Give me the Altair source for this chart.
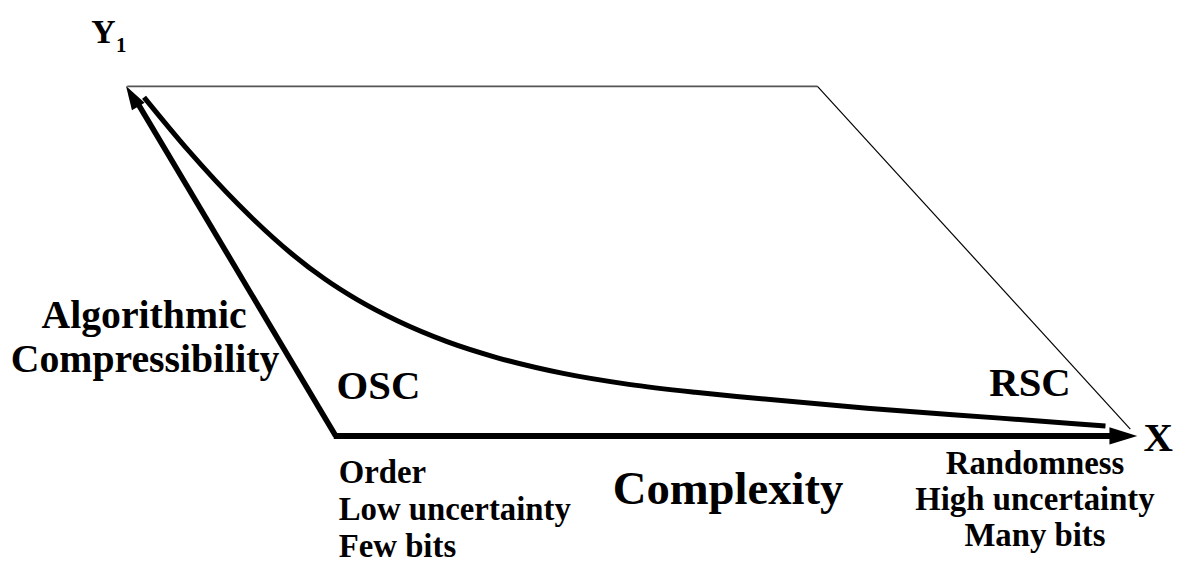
import altair as alt
import pandas as pd

# ---- data (page pixel coordinates of the diagram) ----
curve_x = [145, 190, 240, 293, 327, 360, 400, 450, 500, 567, 633, 700, 750, 873, 1007, 1113]
curve_y = [96, 150, 204, 253, 279, 300, 321, 342, 358, 374, 385, 393, 398, 409, 419, 427]

top_x = [128, 823]
top_y = [85, 85]
diag_x = [823, 1138]
diag_y = [85, 430]

yaxis_x = [338, 138]
yaxis_y = [437, 101]
xaxis_x = [336, 1120]
xaxis_y = [437, 437]

head_x = [133, 1131]
head_y = [95, 437]
head_angle = [239, 0]
head_size = [576, 784]

big_labels = ["Algorithmic", "Compressibility"]
big_x = [145, 146]
big_y = [328, 373]

region_labels = ["OSC", "RSC", "X"]
region_x = [381, 1037, 1166]
region_y = [400, 397, 452]

left_labels = ["Order", "Low uncertainty", "Few bits"]
left_x = [341, 341, 341]
left_y = [484, 522, 559]

right_labels = ["Randomness", "High uncertainty", "Many bits"]
right_x = [1042, 1042, 1042]
right_y = [475, 512, 548]

title_label = ["Complexity"]
title_x = [733]
title_y = [505]

y_label = ["Y"]
y_lx = [104]
y_ly = [41]
sub_label = ["1"]
sub_x = [122]
sub_y = [50]

FONT = "Liberation Serif"
W, H = 1177, 560


def X():
    return alt.X("x:Q", scale=alt.Scale(domain=[8, 1185], nice=False, zero=False), axis=None)


def Y():
    return alt.Y("y:Q", scale=alt.Scale(domain=[8, 568], nice=False, zero=False, reverse=True), axis=None)


def line_df(xs, ys):
    return pd.DataFrame({"x": xs, "y": ys, "o": list(range(len(xs)))})


def line_layer(xs, ys, width, color="black"):
    return alt.Chart(line_df(xs, ys)).mark_line(
        color=color, strokeWidth=width, strokeCap="butt", strokeJoin="miter", interpolate="monotone"
    ).encode(x=X(), y=Y(), order="o:Q")


def text_layer(labels, xs, ys, size, align="center"):
    df = pd.DataFrame({"x": xs, "y": ys, "t": labels})
    return alt.Chart(df).mark_text(
        font=FONT, fontWeight="bold", fontSize=size, align=align, baseline="alphabetic", color="black"
    ).encode(x=X(), y=Y(), text="t:N")


curve = line_layer(curve_x, curve_y, 5)
top = line_layer(top_x, top_y, 2, "#555555")
diag = line_layer(diag_x, diag_y, 1.2)
yshaft = line_layer(yaxis_x, yaxis_y, 5.5)
xshaft = line_layer(xaxis_x, xaxis_y, 6)

heads_df = pd.DataFrame({"x": head_x, "y": head_y, "a": head_angle, "s": head_size})
heads = alt.Chart(heads_df).mark_point(
    shape="M1,0L-1,-0.62L-1,0.62Z", filled=True, opacity=1, color="black", strokeWidth=0
).encode(
    x=X(), y=Y(),
    angle=alt.Angle("a:Q", scale=None),
    size=alt.Size("s:Q", scale=None),
)

texts = [
    text_layer(big_labels, big_x, big_y, 40),
    text_layer(region_labels, region_x, region_y, 41),
    text_layer(left_labels, left_x, left_y, 33, align="left"),
    text_layer(right_labels, right_x, right_y, 33),
    text_layer(title_label, title_x, title_y, 47),
    text_layer(y_label, y_lx, y_ly, 34),
    text_layer(sub_label, sub_x, sub_y, 21),
]

chart = alt.layer(top, diag, curve, yshaft, xshaft, heads, *texts).properties(
    width=W, height=H, padding=0, autosize="none", background="white"
).configure_view(stroke=None)

chart.save("out.html", embed_options={"renderer": "svg", "actions": False})
